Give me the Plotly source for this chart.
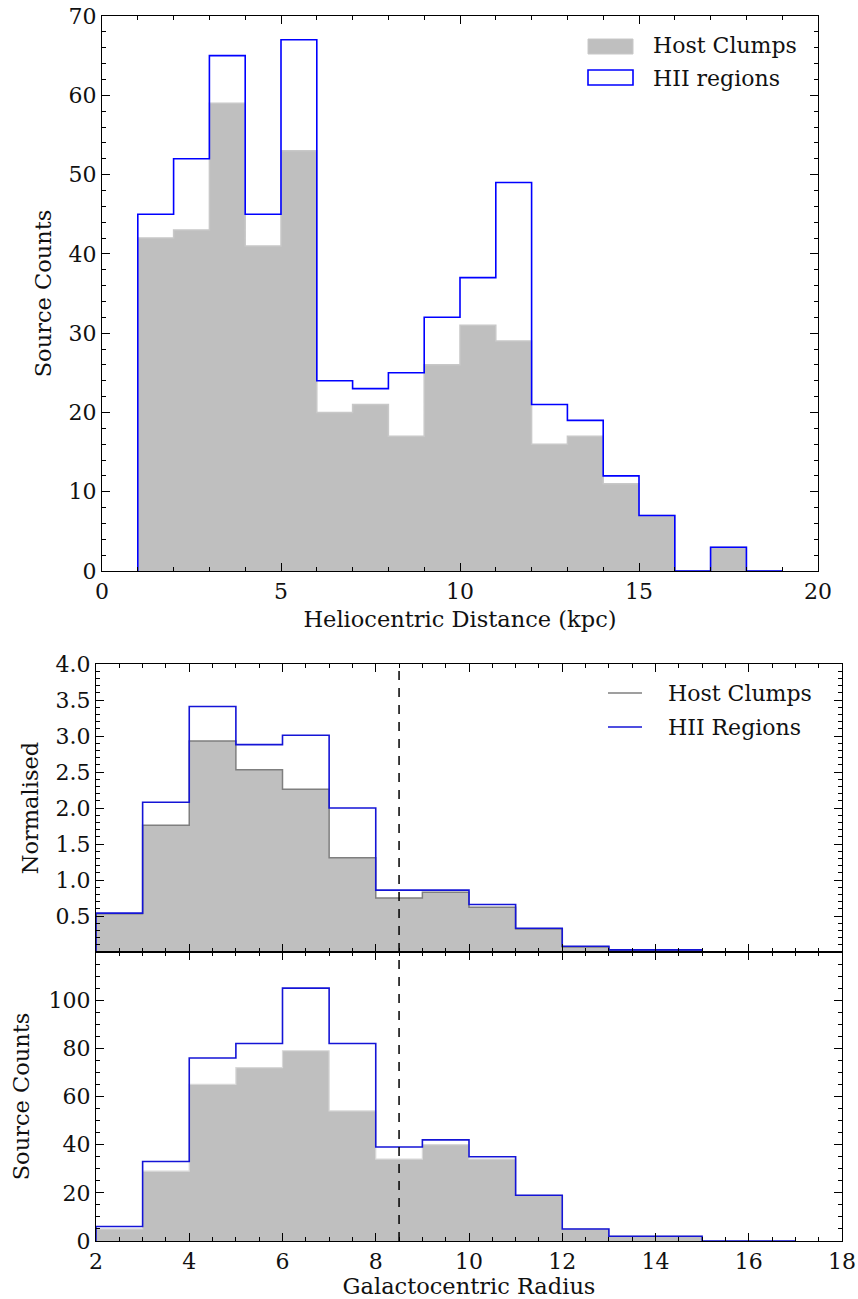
import plotly.graph_objects as go

# ---------------- data ----------------
# Top panel: heliocentric distance histogram (1 kpc bins from 1 to 19)
helio_edges = list(range(1, 20))
helio_host = [42, 43, 59, 41, 53, 20, 21, 17, 26, 31, 29, 16, 17, 11, 7, 0, 3, 0]
helio_hii = [45, 52, 65, 45, 67, 24, 23, 25, 32, 37, 49, 21, 19, 12, 7, 0, 3, 0]

# Middle panel: normalised galactocentric radius (bins 2..15)
norm_edges = list(range(2, 16))
norm_host = [0.53, 1.76, 2.93, 2.53, 2.26, 1.31, 0.75, 0.83, 0.62, 0.32, 0.07, 0.02, 0.02]
norm_hii = [0.54, 2.08, 3.41, 2.88, 3.01, 2.00, 0.86, 0.86, 0.66, 0.33, 0.08, 0.03, 0.03]

# Bottom panel: galactocentric radius source counts (bins 2..17)
gc_edges = list(range(2, 18))
gc_host = [5, 29, 65, 72, 79, 54, 34, 40, 34, 19, 5, 2, 2, 0, 0]
gc_hii = [6, 33, 76, 82, 105, 82, 39, 42, 35, 19, 5, 2, 2, 0, 0]

SUN_RADIUS = 8.5  # dashed reference line

# legend labels
top_labels = ["Host Clumps", "HII regions"]
mid_labels = ["Host Clumps", "HII Regions"]

FONT = "DejaVu Serif"
W, H = 858, 1299
ML, MR, MT, MB = 10, 10, 10, 10
PW, PH = W - ML - MR, H - MT - MB

GREY_FILL = "#bfbfbf"
BLUE = "#0000ff"
BLUE2 = "#1414d6"


def step_xy(edges, counts):
    xs = [edges[0]] + list(edges[:-1]) + [edges[-1], edges[-1]]
    ys = [0] + list(counts) + [counts[-1], 0]
    return xs, ys


def px(x):
    return (x - ML) / PW


def py(y):
    return (H - MB - y) / PH


fig = go.Figure()

# top panel
hx, hy = step_xy(helio_edges, helio_host)
fig.add_trace(go.Scatter(x=hx, y=hy, mode="lines", line_shape="hv",
                         line=dict(color="#c8c8c8", width=1.5),
                         fill="toself", fillcolor=GREY_FILL,
                         name=top_labels[0], xaxis="x", yaxis="y"))
ix, iy = step_xy(helio_edges, helio_hii)
fig.add_trace(go.Scatter(x=ix, y=iy, mode="lines", line_shape="hv",
                         line=dict(color=BLUE, width=1.6),
                         name=top_labels[1], xaxis="x", yaxis="y"))

# middle panel
nx, ny = step_xy(norm_edges, norm_host)
fig.add_trace(go.Scatter(x=nx, y=ny, mode="lines", line_shape="hv",
                         line=dict(color="#7f7f7f", width=1.5),
                         fill="toself", fillcolor=GREY_FILL,
                         name=mid_labels[0], xaxis="x2", yaxis="y2"))
nx2, ny2 = step_xy(norm_edges, norm_hii)
fig.add_trace(go.Scatter(x=nx2, y=ny2, mode="lines", line_shape="hv",
                         line=dict(color=BLUE2, width=1.6),
                         name=mid_labels[1], xaxis="x2", yaxis="y2"))

# bottom panel
gx, gy = step_xy(gc_edges, gc_host)
fig.add_trace(go.Scatter(x=gx, y=gy, mode="lines", line_shape="hv",
                         line=dict(color="#d8d8d8", width=1.2),
                         fill="toself", fillcolor=GREY_FILL,
                         name=mid_labels[0], xaxis="x3", yaxis="y3"))
gx2, gy2 = step_xy(gc_edges, gc_hii)
fig.add_trace(go.Scatter(x=gx2, y=gy2, mode="lines", line_shape="hv",
                         line=dict(color=BLUE2, width=1.6),
                         name=mid_labels[1], xaxis="x3", yaxis="y3"))

# dashed reference lines
for xr, yr in (("x2", "y2 domain"), ("x3", "y3 domain")):
    fig.add_shape(type="line", xref=xr, yref=yr, x0=SUN_RADIUS, x1=SUN_RADIUS,
                  y0=0, y1=1, line=dict(color="black", width=1.5, dash="9px,8px"),
                  layer="above")

# manual legends (matplotlib-style)
fig.add_shape(type="rect", xref="paper", yref="paper",
              x0=px(588), x1=px(633), y0=py(39), y1=py(54),
              fillcolor=GREY_FILL, line=dict(color="#c8c8c8", width=1))
fig.add_shape(type="rect", xref="paper", yref="paper",
              x0=px(588), x1=px(633), y0=py(70), y1=py(85),
              fillcolor="white", line=dict(color=BLUE, width=1.6))
fig.add_shape(type="line", xref="paper", yref="paper",
              x0=px(608), x1=px(642), y0=py(693), y1=py(693),
              line=dict(color="#7f7f7f", width=1.5))
fig.add_shape(type="line", xref="paper", yref="paper",
              x0=px(608), x1=px(642), y0=py(727), y1=py(727),
              line=dict(color=BLUE2, width=1.6))
for lab, x, y in ((top_labels[0], 651, 46), (top_labels[1], 651, 78),
                  (mid_labels[0], 666, 693), (mid_labels[1], 666, 727)):
    fig.add_annotation(text=lab, xref="paper", yref="paper", x=px(x), y=py(y),
                       xanchor="left", yanchor="middle", showarrow=False,
                       font=dict(family=FONT, size=22, color="#111"))


def ax(**kw):
    base = dict(showline=True, linecolor="black", linewidth=1.3, mirror="allticks",
                ticks="inside", ticklen=8, tickwidth=1, tickcolor="black",
                showgrid=False, zeroline=False, automargin=False,
                tickfont=dict(family=FONT, size=22, color="#111"),
                title_font=dict(family=FONT, size=22.5, color="#111"))
    base.update(kw)
    return base


def minor(dt):
    return dict(ticks="inside", ticklen=4, tickcolor="black", dtick=dt, tick0=0, showgrid=False)


def xd(a, b):
    return [px(a), px(b)]


def yd(top, bot):
    return [py(bot), py(top)]


fig.update_layout(
    width=W, height=H, margin=dict(l=ML, r=MR, t=MT, b=MB),
    paper_bgcolor="white", plot_bgcolor="white",
    font=dict(family=FONT, size=22, color="#111"),
    showlegend=False,
    xaxis=ax(domain=xd(102, 818), anchor="y", range=[0, 20], dtick=5, tick0=0,
             minor=minor(1), title=dict(text="Heliocentric Distance (kpc)", standoff=8)),
    yaxis=ax(domain=yd(16, 571), anchor="x", range=[0, 70], dtick=10, tick0=0,
             minor=minor(2), title=dict(text="Source Counts", standoff=10)),
    xaxis2=ax(domain=xd(96, 842), anchor="y2", range=[2, 18], dtick=2, tick0=0,
              minor=minor(0.5), showticklabels=False),
    yaxis2=ax(domain=yd(664, 952), anchor="x2", range=[0, 4.0],
              tickmode="array", tickvals=[0, 0.5, 1, 1.5, 2, 2.5, 3, 3.5, 4],
              ticktext=["", "0.5", "1.0", "1.5", "2.0", "2.5", "3.0", "3.5", "4.0"],
              minor=minor(0.1), title=dict(text="Normalised", standoff=10)),
    xaxis3=ax(domain=xd(96, 842), anchor="y3", range=[2, 18], dtick=2, tick0=0,
              minor=minor(0.5), title=dict(text="Galactocentric Radius", standoff=9)),
    yaxis3=ax(domain=yd(952, 1241), anchor="x3", range=[0, 120],
              tickmode="array", tickvals=[0, 20, 40, 60, 80, 100, 120],
              ticktext=["0", "20", "40", "60", "80", "100", ""],
              minor=minor(5), title=dict(text="Source Counts", standoff=12)),
)

fig.write_html("out.html")
